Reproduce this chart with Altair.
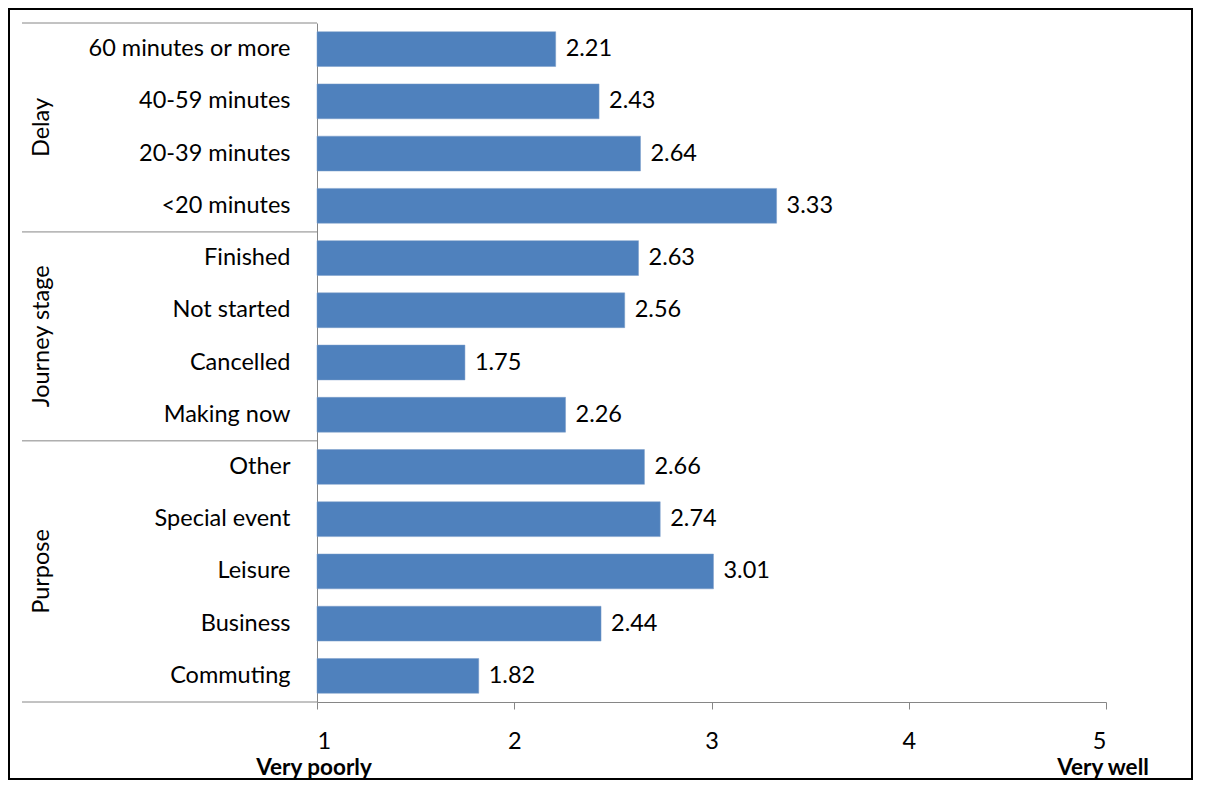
import altair as alt
import pandas as pd

categories = ["60 minutes or more", "40-59 minutes", "20-39 minutes", "<20 minutes",
              "Finished", "Not started", "Cancelled", "Making now",
              "Other", "Special event", "Leisure", "Business", "Commuting"]
values = [2.21, 2.43, 2.64, 3.33, 2.63, 2.56, 1.75, 2.26, 2.66, 2.74, 3.01, 2.44, 1.82]
group_names = ["Delay", "Journey stage", "Purpose"]
group_sizes = [4, 4, 5]
x_ticks = [1, 2, 3, 4, 5]
end_labels = ["Very poorly", "Very well"]
end_values = [1, 5]

W, H = 789, 679
PAD_L, PAD_T, PAD_R, PAD_B = 309, 15, 87, 78
FONT = "Lato"
FS = 23.5
GREY = "#868686"
BAR = "#4F81BD"

df = pd.DataFrame({"cat": categories, "value": values, "label": [f"{v:.2f}" for v in values]})
n = len(categories)
step = H / n

yenc = alt.Y("cat:N", sort=categories, title=None,
             scale=alt.Scale(paddingInner=1/3, paddingOuter=1/6),
             axis=alt.Axis(ticks=False, domain=True, domainColor=GREY, domainWidth=1,
                           labelPadding=27, labelFontSize=FS, labelFont=FONT,
                           labelColor="black", labelLimit=400))
xenc = alt.X("value:Q", title=None,
             scale=alt.Scale(domain=[1, 5], nice=False, zero=False),
             axis=alt.Axis(values=x_ticks, grid=False, tickColor=GREY, tickSize=7,
                           domainColor=GREY, labelPadding=20, labelFontSize=FS,
                           labelFont=FONT, labelColor="black", format="d"))

base = alt.Chart(df)
bars = base.mark_bar(color=BAR, stroke="#7a9cc9", strokeWidth=0.5).encode(
    x=xenc, x2=alt.datum(1), y=yenc)
texts = base.mark_text(align="left", baseline="middle", dx=10, fontSize=FS,
                       font=FONT, color="black").encode(
    x=alt.X("value:Q"), y=alt.Y("cat:N", sort=categories), text="label:N")

# group separators (left of plot)
bounds = [0]
for s in group_sizes:
    bounds.append(bounds[-1] + s)
sep_layers = []
for b in bounds:
    sep_layers.append(
        alt.Chart(pd.DataFrame({"k": [0]})).mark_rule(color=GREY, strokeWidth=1).encode(
            x=alt.value(-295), x2=alt.value(0), y=alt.value(b * step)))

grp_layers = []
for name, s0, s in zip(group_names, bounds[:-1], group_sizes):
    grp_layers.append(
        alt.Chart(pd.DataFrame({"t": [name]})).mark_text(
            angle=270, fontSize=FS, font=FONT, color="black", baseline="middle",
            align="center").encode(
            x=alt.value(-275), y=alt.value((s0 + s / 2) * step), text="t:N"))

ends = alt.Chart(pd.DataFrame({"x": end_values, "t": end_labels})).mark_text(
    fontSize=FS - 1, font=FONT, fontWeight="bold", color="black", baseline="middle",
    align="center", dx=-3).encode(
    x=alt.X("x:Q"), y=alt.value(H + 66), text="t:N")

border = alt.Chart(pd.DataFrame({"k": [0]})).mark_rect(
    filled=False, stroke="black", strokeWidth=2).encode(
    x=alt.value(-PAD_L + 1), x2=alt.value(W + PAD_R - 1),
    y=alt.value(-PAD_T + 1), y2=alt.value(H + PAD_B - 1))

chart = alt.layer(bars, texts, *sep_layers, *grp_layers, ends, border).properties(
    width=W, height=H,
    background="white",
    autosize=alt.AutoSizeParams(type="none"),
    padding={"left": PAD_L, "top": PAD_T, "right": PAD_R, "bottom": PAD_B},
).configure_view(stroke=None)

chart.save("out.html", embed_options={"renderer": "svg", "actions": False})
